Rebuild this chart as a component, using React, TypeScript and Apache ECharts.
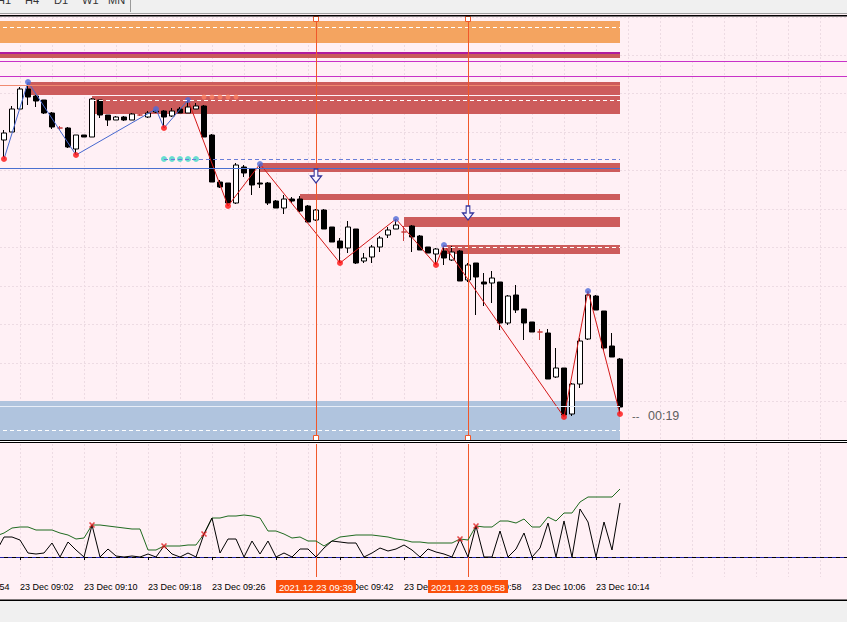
import React, { useEffect, useRef } from 'react';
import * as echarts from 'echarts';

// ---------- categories (1-minute bars, 23 Dec) ----------
const DAY_LABEL = '23 Dec';
const FIRST_MIN = 8 * 60 + 54;
const LAST_MIN = 10 * 60 + 45;
const categories: string[] = [];
for (let m = FIRST_MIN; m <= LAST_MIN; m++) {
  const h = Math.floor(m / 60);
  const mm = m % 60;
  categories.push(`${String(h).padStart(2, '0')}:${String(mm).padStart(2, '0')}`);
}
const LAST_BAR = '10:17';

// ---------- candles: [time, open, close, low, high] (price points) ----------
const candles: [string, number, number, number, number][] = [
  ['09:00', 300, 307, 283, 310],
  ['09:01', 308, 331, 308, 334],
  ['09:02', 331, 351, 330, 353],
  ['09:03', 351, 343, 335, 356],
  ['09:04', 344, 339, 333, 345],
  ['09:05', 340, 327, 326, 340],
  ['09:06', 327, 313, 311, 328],
  ['09:07', 312, 312, 310, 314],
  ['09:08', 312, 293, 292, 313],
  ['09:09', 291, 305, 286, 305],
  ['09:10', 305, 303, 303, 305],
  ['09:11', 303, 341, 303, 342],
  ['09:12', 340, 325, 322, 340],
  ['09:13', 325, 320, 314, 325],
  ['09:14', 320, 323, 320, 324],
  ['09:15', 323, 320, 319, 324],
  ['09:16', 320, 326, 320, 327],
  ['09:17', 325, 325, 324, 326],
  ['09:18', 323, 327, 322, 329],
  ['09:19', 328, 329, 327, 330],
  ['09:20', 329, 323, 313, 330],
  ['09:21', 324, 329, 323, 332],
  ['09:22', 331, 327, 327, 333],
  ['09:23', 327, 333, 327, 339],
  ['09:24', 331, 334, 331, 337],
  ['09:25', 334, 303, 303, 335],
  ['09:26', 305, 258, 258, 306],
  ['09:27', 258, 253, 252, 260],
  ['09:28', 257, 237, 235, 257],
  ['09:29', 237, 275, 236, 277],
  ['09:30', 273, 267, 263, 275],
  ['09:31', 271, 255, 245, 272],
  ['09:32', 257, 256, 252, 275],
  ['09:33', 257, 237, 235, 258],
  ['09:34', 239, 232, 232, 240],
  ['09:35', 232, 241, 226, 245],
  ['09:36', 241, 239, 237, 243],
  ['09:37', 241, 229, 228, 244],
  ['09:38', 234, 218, 218, 235],
  ['09:39', 220, 230, 219, 231],
  ['09:40', 230, 211, 211, 231],
  ['09:41', 213, 198, 198, 213],
  ['09:42', 199, 192, 178, 202],
  ['09:43', 192, 213, 187, 219],
  ['09:44', 211, 177, 176, 211],
  ['09:45', 179, 182, 177, 187],
  ['09:46', 183, 193, 177, 195],
  ['09:47', 193, 202, 188, 204],
  ['09:48', 205, 210, 202, 213],
  ['09:49', 211, 215, 211, 220],
  ['09:50', 208, 208, 199, 214],
  ['09:51', 214, 203, 188, 215],
  ['09:52', 204, 190, 190, 205],
  ['09:53', 193, 187, 187, 193],
  ['09:54', 186, 191, 176, 192],
  ['09:55', 189, 182, 175, 194],
  ['09:56', 180, 188, 179, 194],
  ['09:57', 189, 159, 159, 190],
  ['09:58', 160, 175, 158, 177],
  ['09:59', 177, 163, 125, 177],
  ['10:00', 158, 156, 134, 167],
  ['10:01', 157, 162, 137, 169],
  ['10:02', 158, 117, 110, 158],
  ['10:03', 117, 144, 115, 145],
  ['10:04', 145, 130, 127, 155],
  ['10:05', 131, 117, 100, 131],
  ['10:06', 118, 108, 108, 118],
  ['10:07', 108, 108, 100, 111],
  ['10:08', 107, 61, 61, 111],
  ['10:09', 63, 72, 62, 92],
  ['10:10', 72, 25, 24, 72],
  ['10:11', 26, 56, 24, 57],
  ['10:12', 56, 99, 52, 102],
  ['10:13', 101, 145, 100, 148],
  ['10:14', 144, 130, 130, 145],
  ['10:15', 129, 92, 90, 129],
  ['10:16', 94, 83, 83, 107],
  ['10:17', 81, 33, 27, 82],
];

// ---------- zigzag pivots ----------
const pivotHighs: [string, number][] = [
  ['09:03', 358], ['09:19', 331], ['09:23', 340], ['09:32', 276],
  ['09:49', 221], ['09:55', 195], ['10:13', 149],
];
const pivotLows: [string, number][] = [
  ['09:00', 281], ['09:09', 285], ['09:20', 312], ['09:28', 234],
  ['09:42', 177], ['09:54', 175], ['10:10', 23], ['10:17', 26],
];
const zigzagOld: [string, number][] = [
  ['09:00', 281], ['09:03', 358], ['09:09', 285], ['09:19', 331], ['09:20', 312], ['09:23', 340],
];
const zigzagNew: [string, number][] = [
  ['09:23', 340], ['09:28', 234], ['09:32', 276], ['09:42', 177], ['09:49', 221],
  ['09:54', 175], ['09:55', 195], ['10:10', 23], ['10:13', 149], ['10:17', 26],
];

// ---------- dotted level markers ----------
const salmonDots: [string, number][] = [['09:25', 343], ['09:26', 343], ['09:27', 343], ['09:28', 343], ['09:29', 343]];
const cyanDots: [string, number][] = [['09:20', 281], ['09:21', 281], ['09:22', 281], ['09:23', 281], ['09:24', 281]];

// ---------- zones: [from, to, top, bottom, color] ----------
const zones: [string, string, number, number, string][] = [
  ['08:59', '10:17', 419, 397, '#f4a460'],
  ['08:59', '10:17', 388, 386, '#b01c9e'],
  ['08:59', '10:17', 386, 382, '#c85a5a'],
  ['09:03', '10:17', 358, 345, '#cd5c5c'],
  ['09:11', '10:17', 344, 326, '#cd5c5c'],
  ['09:32', '10:17', 277, 268, '#cd5c5c'],
  ['09:37', '10:17', 246, 240, '#cd5c5c'],
  ['09:50', '10:17', 223, 213, '#cd5c5c'],
  ['09:55', '10:17', 195, 186, '#cd5c5c'],
  ['08:59', '10:17', 39, 0, '#b0c4de'],
];
// full-width levels
const fullLevels: number[] = [379, 364];
// segment levels: [from, to, value, color, dashed]
const segLevels: [string, string, number, string, boolean][] = [
  ['08:59', '10:17', 413, '#ffffff', true],
  ['08:59', '10:17', 355, '#f08a70', false],
  ['09:11', '10:17', 339.5, '#ffffff', true],
  ['08:59', '10:17', 272, '#4a70d0', false],
  ['09:20', '10:17', 281, '#6a7ed8', true],
  ['09:55', '10:17', 193, '#ffffff', true],
  ['08:59', '10:17', 34, '#e8eef8', false],
  ['08:59', '10:17', 10, '#ffffff', true],
];
// vertical lines & signal arrows
const vLines: string[] = ['09:39', '09:58'];
const vLineLabels: string[] = ['2021.12.23 09:39', '2021.12.23 09:58'];
const arrows: [string, number][] = [['09:39', 264], ['09:58', 227]];

// ---------- indicator ----------
const indTimes: string[] = candles.map((c) => c[0]);
const greenVals: number[] = [
  24, 29, 30, 30, 27, 27, 27, 24, 22, 18, 19, 32, 32, 31, 30, 29, 28, 28, 7, 7,
  11, 11, 11, 12, 12, 23, 39, 39, 41, 41, 42, 41, 39, 26, 26, 23, 19, 20, 16, 16,
  11, 16, 20, 21, 22, 22, 22, 21, 20, 18, 17, 15, 15, 14, 14, 14, 14, 18, 17, 31,
  30, 30, 36, 36, 34, 38, 30, 30, 40, 36, 44, 44, 55, 60, 60, 60, 60, 68,
];
const blackVals: number[] = [
  20, 20, 17, 4, 3, 4, 14, 0, 15, 7, 0, 32, 0, 8, 1, 0, 1, 0, 3, 0,
  11, 3, 0, 4, 0, 23, 39, 4, 18, 18, 0, 16, 3, 16, 0, 4, 0, 8, 8, 0,
  9, 16, 15, 14, 14, 0, 4, 9, 6, 8, 12, 7, 0, 8, 5, 3, 0, 18, 0, 31,
  0, 0, 26, 0, 8, 24, 0, 9, 34, 0, 36, 0, 48, 35, 0, 35, 7, 54,
];
const greenEdge: [string, number] = ['08:59', 21];
const blackEdge: [string, number] = ['08:59', 5];
const signals: [string, number][] = [['09:11', 32], ['09:20', 11], ['09:25', 23], ['09:57', 18], ['09:59', 31]];

const ORANGE = '#f0582a';
const LABEL_BG = '#fa500c';
const FONT = 'Liberation Sans, Arial, sans-serif';

export default function App() {
  const ref = useRef<HTMLDivElement>(null);

  useEffect(() => {
    if (!ref.current) return;
    const chart = echarts.init(ref.current, undefined, { renderer: 'svg' });

    const candleMap = new Map(candles.map((c) => [c[0], c]));
    const doji = { color: '#c83c3c', color0: '#c83c3c', borderColor: '#c83c3c', borderColor0: '#c83c3c', borderColorDoji: '#c83c3c' };
    const candleData = categories.map((c) => {
      const r = candleMap.get(c);
      if (!r) return '-';
      const v = [r[1], r[2], r[3], r[4]];
      if (r[1] === r[2]) return { value: v, itemStyle: doji };
      return v;
    });

    const greenData: [string, number][] = [greenEdge, ...indTimes.map((t, i) => [t, greenVals[i]] as [string, number])];
    const blackData: [string, number][] = [blackEdge, ...indTimes.map((t, i) => [t, blackVals[i]] as [string, number])];

    const markAreaData = zones.map(([from, to, top, bottom, color]) => [
      { xAxis: from, yAxis: top, itemStyle: { color, opacity: 1 } },
      { xAxis: to, yAxis: bottom },
    ]);

    const markLineData: any[] = [
      ...fullLevels.map((v) => ({ yAxis: v, lineStyle: { color: '#c832c8', width: 1, type: 'solid' } })),
      ...segLevels.map(([from, to, v, color, dashed]) => [
        { coord: [from, v], lineStyle: { color, width: 1, type: dashed ? [4, 3] : 'solid' } },
        { coord: [to, v] },
      ]),
      ...vLines.map((t) => ({ xAxis: t, lineStyle: { color: ORANGE, width: 1, type: 'solid' } })),
    ];

    const arrowPath = 'path://M4,0L8,0L8,7L12,7L6,14L0,7L4,7Z';
    const markPointData: any[] = [
      ...arrows.map(([t, v]) => ({
        coord: [t, v], symbol: arrowPath, symbolSize: [11, 14],
        itemStyle: { color: '#fbf3fb', borderColor: '#34349c', borderWidth: 1.2 },
      })),
      ...vLines.flatMap((t) => [
        { coord: [t, 421], symbol: 'rect', symbolSize: 5, itemStyle: { color: '#ffffff', borderColor: ORANGE, borderWidth: 1 } },
        { coord: [t, 2], symbol: 'rect', symbolSize: 5, itemStyle: { color: '#ffffff', borderColor: ORANGE, borderWidth: 1 } },
      ]),
    ];

    const gridLine = { show: true, lineStyle: { color: '#eddbe3', width: 1, type: [2, 2] } };
    const labelled = (index: number, value: string) => index % 8 === 0 && value <= LAST_BAR;

    const tfLabels = [['H1', -3], ['H4', 25], ['D1', 54], ['W1', 82], ['MN', 108]] as [string, number][];

    const option: any = {
      animation: false,
      backgroundColor: '#fff0f5',
      grid: [
        { left: -48, width: 896, top: 17, height: 423, containLabel: false, outerBoundsMode: 'none' },
        { left: -48, width: 896, top: 444, height: 133, containLabel: false, outerBoundsMode: 'none' },
      ],
      xAxis: [
        {
          type: 'category', data: categories, gridIndex: 0, boundaryGap: true,
          axisLine: { show: false }, axisTick: { show: false }, axisLabel: { show: false },
          splitLine: { ...gridLine, interval: 3, alignWithLabel: true },
        },
        {
          type: 'category', data: categories, gridIndex: 1, boundaryGap: true,
          axisLine: { show: true, lineStyle: { color: '#000', width: 1 } },
          axisTick: { show: true, interval: labelled, alignWithLabel: true, length: 3, lineStyle: { color: '#000' } },
          axisLabel: {
            show: true, interval: labelled, align: 'left', margin: 5,
            fontFamily: FONT, fontSize: 9, color: '#000',
            formatter: (v: string) => `${DAY_LABEL} ${v}`,
          },
          splitLine: { ...gridLine, interval: 3, alignWithLabel: true },
        },
      ],
      yAxis: [
        {
          type: 'value', gridIndex: 0, min: 0, max: 423, interval: 38.5,
          axisLine: { show: false }, axisTick: { show: false }, axisLabel: { show: false },
          splitLine: gridLine,
        },
        {
          type: 'value', gridIndex: 1, min: -20, max: 113,
          axisLine: { show: false }, axisTick: { show: false }, axisLabel: { show: false },
          splitLine: { show: false },
        },
      ],
      series: [
        {
          type: 'candlestick', name: 'price', xAxisIndex: 0, yAxisIndex: 0,
          data: candleData, barWidth: 5, silent: true,
          itemStyle: { color: '#ffffff', color0: '#000000', borderColor: '#000000', borderColor0: '#000000', borderWidth: 1 },
          markArea: { silent: true, data: markAreaData },
          markLine: { silent: true, symbol: ['none', 'none'], label: { show: false }, data: markLineData },
          markPoint: { silent: true, label: { show: false }, data: markPointData },
        },
        {
          type: 'line', name: 'zigzag-old', xAxisIndex: 0, yAxisIndex: 0, data: zigzagOld,
          symbol: 'none', silent: true, lineStyle: { color: '#4668d0', width: 1 }, z: 3,
        },
        {
          type: 'line', name: 'zigzag', xAxisIndex: 0, yAxisIndex: 0, data: zigzagNew,
          symbol: 'none', silent: true, lineStyle: { color: '#d41818', width: 1 }, z: 3,
        },
        {
          type: 'scatter', name: 'highs', xAxisIndex: 0, yAxisIndex: 0, data: pivotHighs,
          symbolSize: 6, silent: true, itemStyle: { color: '#4f6bd8' }, z: 4,
        },
        {
          type: 'scatter', name: 'lows', xAxisIndex: 0, yAxisIndex: 0, data: pivotLows,
          symbolSize: 6, silent: true, itemStyle: { color: '#ff1010' }, z: 4,
        },
        {
          type: 'scatter', name: 'salmon', xAxisIndex: 0, yAxisIndex: 0, data: salmonDots,
          symbolSize: 5, silent: true, itemStyle: { color: '#fb8060' }, z: 4,
        },
        {
          type: 'scatter', name: 'cyan', xAxisIndex: 0, yAxisIndex: 0, data: cyanDots,
          symbolSize: 6, silent: true, itemStyle: { color: '#44d8c8' }, z: 4,
        },
        {
          type: 'line', name: 'ind-green', xAxisIndex: 1, yAxisIndex: 1, data: greenData,
          symbol: 'none', silent: true, lineStyle: { color: '#1f6a1f', width: 1 },
        },
        {
          type: 'line', name: 'ind-black', xAxisIndex: 1, yAxisIndex: 1, data: blackData,
          symbol: 'none', silent: true, lineStyle: { color: '#000000', width: 1 }, z: 3,
          markLine: {
            silent: true, symbol: ['none', 'none'], z: 2,
            data: [
              { yAxis: 0, lineStyle: { color: '#2424a8', width: 1, type: [4, 4] }, label: { show: false } },
              ...vLines.map((t, i) => ({
                xAxis: t,
                lineStyle: { color: ORANGE, width: 1, type: 'solid' },
                label: {
                  show: true, position: 'start', distance: 3, formatter: vLineLabels[i],
                  backgroundColor: LABEL_BG, color: '#ffffff', padding: [2, 3, 1, 3],
                  fontFamily: FONT, fontSize: 9.5,
                },
              })),
            ],
          },
        },
        {
          type: 'scatter', name: 'signals', xAxisIndex: 1, yAxisIndex: 1, data: signals,
          symbol: 'path://M0,0L8,8M8,0L0,8', symbolSize: 5, silent: true,
          itemStyle: { color: 'none', borderColor: '#e02020', borderWidth: 1.6 }, z: 5,
        },
      ],
      graphic: [
        { type: 'rect', z: 100, silent: true, shape: { x: 0, y: 0, width: 847, height: 13 }, style: { fill: '#f0f0f0' } },
        { type: 'line', z: 100, silent: true, shape: { x1: 0, y1: 13.5, x2: 847, y2: 13.5 }, style: { stroke: '#a0a0a0', lineWidth: 1 } },
        { type: 'rect', z: 100, silent: true, shape: { x: 0, y: 15, width: 847, height: 1.5 }, style: { fill: '#000' } },
        { type: 'line', z: 100, silent: true, shape: { x1: 130.5, y1: 0, x2: 130.5, y2: 12 }, style: { stroke: '#9a9a9a', lineWidth: 1 } },
        ...tfLabels.map(([t, x]) => ({
          type: 'text', z: 101, silent: true, x, y: -6,
          style: { text: t, fill: '#333', fontSize: 11, fontFamily: FONT, verticalAlign: 'top' },
        })),
        { type: 'rect', z: 100, silent: true, shape: { x: 0, y: 440, width: 847, height: 1 }, style: { fill: '#000' } },
        { type: 'rect', z: 100, silent: true, shape: { x: 0, y: 441, width: 847, height: 1 }, style: { fill: '#ffffff' } },
        { type: 'rect', z: 100, silent: true, shape: { x: 0, y: 442, width: 847, height: 1 }, style: { fill: '#000' } },
        { type: 'rect', z: 100, silent: true, shape: { x: 0, y: 599.5, width: 847, height: 1.5 }, style: { fill: '#000' } },
        { type: 'rect', z: 100, silent: true, shape: { x: 0, y: 601, width: 847, height: 21 }, style: { fill: '#f0f0f0' } },
        {
          type: 'text', z: 101, silent: true, x: 632, y: 416,
          style: { text: '--', fill: '#606060', fontSize: 11, fontFamily: FONT, verticalAlign: 'middle' },
        },
        {
          type: 'text', z: 101, silent: true, x: 648, y: 416,
          style: { text: '00:19', fill: '#606060', fontSize: 12.5, fontFamily: FONT, verticalAlign: 'middle' },
        },
      ],
    };

    chart.setOption(option);
    return () => chart.dispose();
  }, []);

  return <div ref={ref} style={{ position: 'fixed', left: 0, top: 0, width: 847, height: 622 }} />;
}
